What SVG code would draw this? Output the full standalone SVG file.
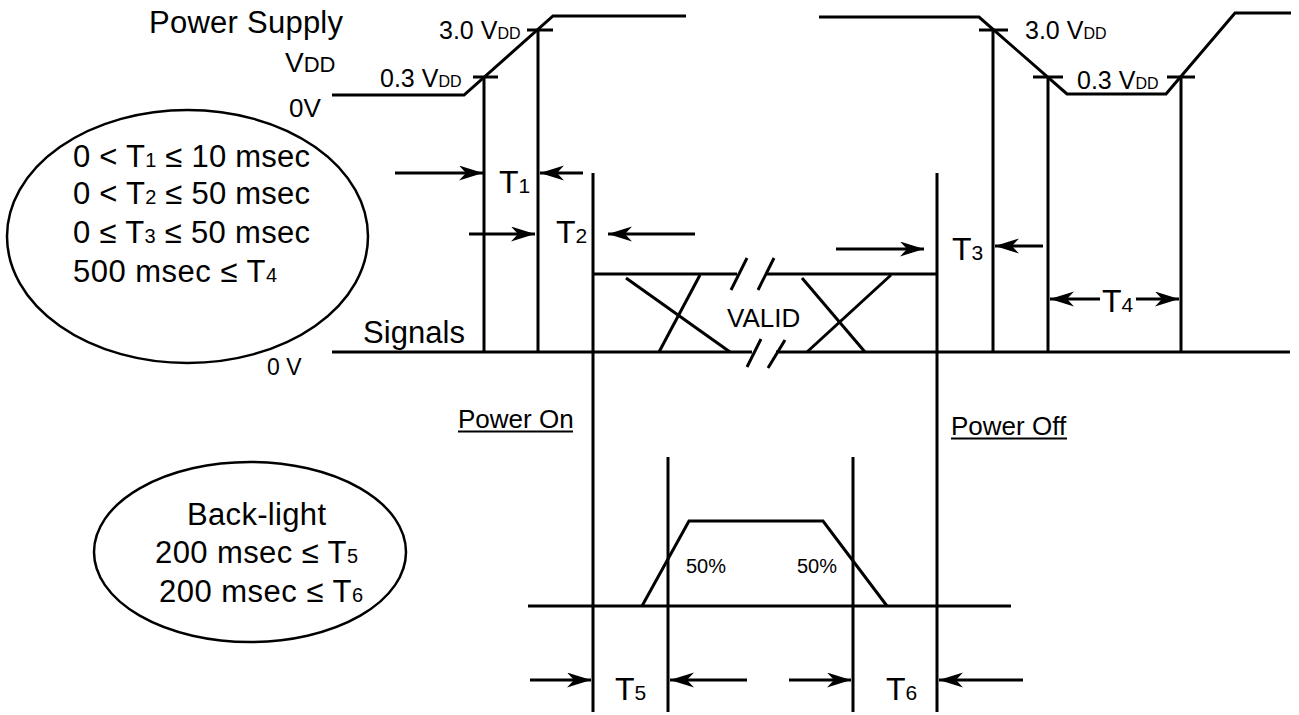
<svg xmlns="http://www.w3.org/2000/svg" width="1299" height="715" viewBox="0 0 1299 715">
<style>
.ln{stroke:#000;stroke-width:3;fill:none}
.el{stroke:#000;stroke-width:2.5;fill:none}
.ar{stroke:#000;stroke-width:3;fill:none;marker-end:url(#ah)}
text{font-family:"Liberation Sans",Arial,sans-serif;fill:#000}
.t{font-size:32px}
.s{font-size:21px}
.m{font-size:25px}
.ms{font-size:16px}
.e{font-size:31px}
.es{font-size:20px}
</style>
<defs>
<marker id="ah" markerUnits="userSpaceOnUse" markerWidth="26" markerHeight="16" refX="24" refY="7.5" orient="auto" viewBox="0 0 26 16">
<path d="M0,0 L24,7.5 L0,15 L7,7.5 Z" fill="#000"/>
</marker>
</defs>
<rect width="1299" height="715" fill="#fff"/>

<g id="connectors">
<g id="power-waveform">
<polyline class="ln" points="332,95 464,95 553,16 686,16"/>
<polyline class="ln" points="819,17 979,17 1067,94 1166,94 1235,13 1291,13"/>
<line class="ln" x1="473" y1="77" x2="498" y2="77"/>
<line class="ln" x1="527" y1="30" x2="553" y2="30"/>
<line class="ln" x1="979" y1="30" x2="1008" y2="30"/>
<line class="ln" x1="1033" y1="77" x2="1063" y2="77"/>
<line class="ln" x1="1167" y1="77" x2="1195" y2="77"/>
</g>
<g id="verticals">
<line class="ln" x1="484" y1="77" x2="484" y2="352"/>
<line class="ln" x1="538" y1="30" x2="538" y2="352"/>
<line class="ln" x1="993" y1="30" x2="993" y2="352"/>
<line class="ln" x1="1048" y1="77" x2="1048" y2="352"/>
<line class="ln" x1="1181" y1="77" x2="1181" y2="352"/>
<line class="ln" x1="593" y1="173" x2="593" y2="712"/>
<line class="ln" x1="937" y1="173" x2="937" y2="712"/>
<line class="ln" x1="668" y1="457" x2="668" y2="712"/>
<line class="ln" x1="853" y1="457" x2="853" y2="712"/>
</g>
<g id="signal-waveform">
<line class="ln" x1="332" y1="352" x2="752" y2="352"/>
<line class="ln" x1="776" y1="352" x2="1290" y2="352"/>
<line class="ln" x1="593" y1="274" x2="737" y2="274"/>
<line class="ln" x1="767" y1="274" x2="937" y2="274"/>
<line class="ln" x1="731" y1="290" x2="747" y2="258"/>
<line class="ln" x1="758" y1="290" x2="774" y2="258"/>
<line class="ln" x1="747" y1="367" x2="761" y2="339"/>
<line class="ln" x1="768" y1="368" x2="785" y2="340"/>
<line class="ln" x1="626" y1="278" x2="730" y2="352"/>
<line class="ln" x1="659" y1="352" x2="700" y2="275"/>
<line class="ln" x1="802" y1="278" x2="865" y2="352"/>
<line class="ln" x1="807" y1="352" x2="891" y2="275"/>
</g>
<g id="backlight-waveform">
<line class="ln" x1="528" y1="606" x2="1011" y2="606"/>
<polyline class="ln" points="642,606 689,521 823,521 887,606"/>
</g>
<g id="arrows">
<line class="ar" x1="395" y1="173" x2="483" y2="173"/>
<line class="ar" x1="583" y1="173" x2="540" y2="173"/>
<line class="ar" x1="469" y1="234" x2="535" y2="234"/>
<line class="ar" x1="695" y1="234" x2="608" y2="234"/>
<line class="ar" x1="836" y1="249" x2="924" y2="249"/>
<line class="ar" x1="1043" y1="246" x2="995" y2="246"/>
<line class="ar" x1="1100" y1="299" x2="1050" y2="299"/>
<line class="ar" x1="1136" y1="299" x2="1179" y2="299"/>
<line class="ar" x1="530" y1="680" x2="591" y2="680"/>
<line class="ar" x1="747" y1="680" x2="670" y2="680"/>
<line class="ar" x1="789" y1="680" x2="851" y2="680"/>
<line class="ar" x1="1023" y1="680" x2="939" y2="680"/>
</g>
</g>

<g id="power-labels">
<text font-size="31" x="149" y="33" textLength="194" lengthAdjust="spacing">Power Supply</text>
<text x="285" y="72" font-size="28">V<tspan font-size="22">DD</tspan></text>
<text font-size="26" x="289" y="117">0V</text>
<text class="m" x="439" y="39">3.0 V<tspan class="ms">DD</tspan></text>
<text class="m" x="380" y="87">0.3 V<tspan class="ms">DD</tspan></text>
<text class="m" x="1025" y="39">3.0 V<tspan class="ms">DD</tspan></text>
<text class="m" x="1077" y="89">0.3 V<tspan class="ms">DD</tspan></text>
</g>

<g id="conditions">
<ellipse class="el" cx="187.5" cy="236.5" rx="180.5" ry="126.5"/>
<text class="e" x="73" y="167" textLength="237" lengthAdjust="spacing">0 &lt; T<tspan class="es">1</tspan> ≤ 10 msec</text>
<text class="e" x="73" y="204" textLength="237" lengthAdjust="spacing">0 &lt; T<tspan class="es">2</tspan> ≤ 50 msec</text>
<text class="e" x="73" y="243" textLength="237" lengthAdjust="spacing">0 ≤ T<tspan class="es">3</tspan> ≤ 50 msec</text>
<text class="e" x="73" y="282" textLength="204" lengthAdjust="spacing">500 msec ≤ T<tspan class="es">4</tspan></text>
</g>

<g id="signal-labels">
<text font-size="31" x="363" y="343" textLength="102" lengthAdjust="spacing">Signals</text>
<text font-size="23" x="267" y="375">0 V</text>
<text font-size="26" x="727" y="327">VALID</text>
<text font-size="26" x="458" y="428">Power On</text>
<line x1="458" y1="431.5" x2="573" y2="431.5" stroke="#000" stroke-width="2"/>
<text font-size="26" x="951" y="435">Power Off</text>
<line x1="951" y1="438.5" x2="1067" y2="438.5" stroke="#000" stroke-width="2"/>
</g>

<g id="timing-labels">
<text class="t" x="499" y="193">T<tspan class="s">1</tspan></text>
<text class="t" x="556" y="243">T<tspan class="s">2</tspan></text>
<text class="t" x="952" y="260">T<tspan class="s">3</tspan></text>
<text class="t" x="1102" y="312">T<tspan class="s">4</tspan></text>
<text class="t" x="615" y="700">T<tspan class="s">5</tspan></text>
<text class="t" x="886" y="700">T<tspan class="s">6</tspan></text>
<text font-size="20" x="686" y="573">50%</text>
<text font-size="20" x="797" y="573">50%</text>
</g>

<g id="backlight-conditions">
<ellipse class="el" cx="250" cy="552" rx="156" ry="90"/>
<text class="e" x="187" y="525" textLength="139" lengthAdjust="spacing">Back-light</text>
<text class="e" x="155" y="563" textLength="203" lengthAdjust="spacing">200 msec ≤ T<tspan class="es">5</tspan></text>
<text class="e" x="159" y="602" textLength="204" lengthAdjust="spacing">200 msec ≤ T<tspan class="es">6</tspan></text>
</g>
</svg>
